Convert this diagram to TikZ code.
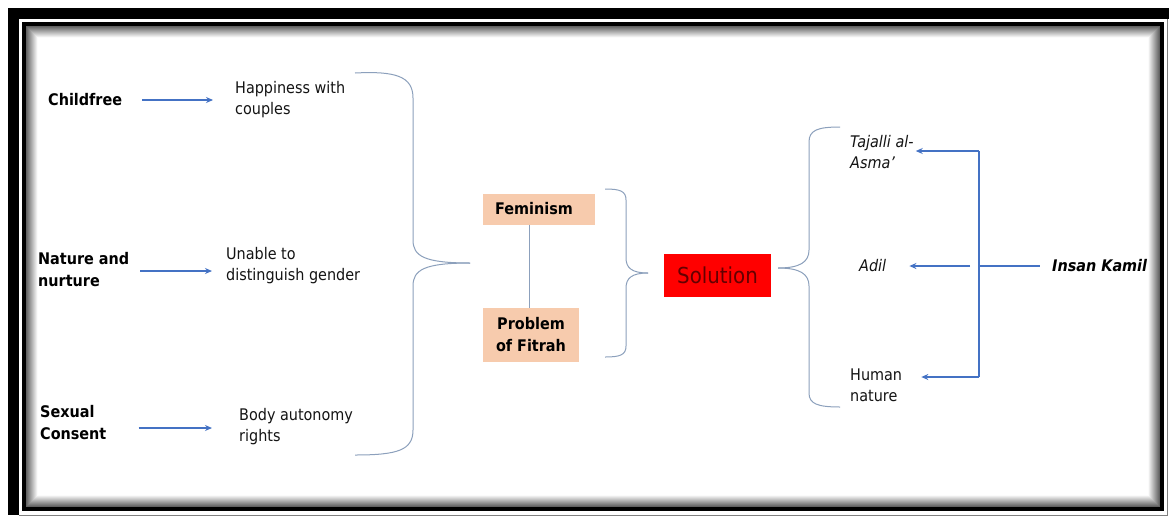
\documentclass[tikz,border=0pt]{standalone}
\usepackage{fontspec}
\setmainfont{DejaVu Sans Condensed}[BoldFont={DejaVu Sans Condensed Bold},ItalicFont={DejaVu Sans Condensed Oblique},BoldItalicFont={DejaVu Sans Condensed Bold Oblique}]
\usetikzlibrary{arrows.meta}
\definecolor{arrblue}{RGB}{68,114,196}
\definecolor{brcol}{RGB}{140,160,188}
\definecolor{peach}{RGB}{247,203,173}
\definecolor{solred}{RGB}{255,0,0}
\definecolor{soltext}{RGB}{100,0,0}
\definecolor{txtcol}{RGB}{20,20,20}
\tikzset{
  txt/.style={font=\fontsize{16}{21}\selectfont, align=left, anchor=west, inner sep=0pt, text=txtcol},
  btxt/.style={txt, font=\fontsize{16}{22}\selectfont\bfseries, text=black},
  arr/.style={draw=arrblue, line width=1.3pt, -{Stealth[length=7pt,width=6pt]}},
  bline/.style={draw=arrblue, line width=1.3pt},
  brc/.style={draw=brcol, line width=1pt},
  pbox/.style={fill=peach, inner sep=0pt, font=\fontsize{16}{22}\selectfont\bfseries, align=center},
}
\begin{document}
\begin{tikzpicture}[x=1pt,y=-1pt]
\useasboundingbox (0,0) rectangle (1169,517);
\fill[white] (0,0) rectangle (1169,517);
% frame
\fill[black] (8,8) rectangle (1169,19);
\fill[black] (8,8) rectangle (19,515);
\draw[gray, line width=1pt] (1167.5,19) -- (1167.5,515.5) -- (19,515.5);
\draw[black, line width=4pt] (24,24) rectangle (1162,509);
\foreach \i in {0,...,11} {
  \pgfmathsetmacro\g{max(0,62-\i*5.5)}
  \draw[black!\g, line width=1.1pt] (26.5+\i,26.5+\i) rectangle (1159.5-\i,506.5-\i);
}
% left column
\node[btxt] (c1) at (48,100) {Childfree};
\node[btxt] (c2) at (38,270) {Nature and\\nurture};
\node[btxt] (c3) at (40,423) {Sexual\\Consent};
\node[txt] (h1) at (235,100) {Happiness with\\couples};
\node[txt] (h2) at (226,266) {Unable to\\distinguish gender};
\node[txt] (h3) at (239,427) {Body autonomy\\rights};
\draw[arr, shorten <=20pt, shorten >=22pt] (c1.east) -- (c1.east -| h1.west);
\draw[arr, shorten <=11pt, shorten >=14pt] (c2.east |- 0,271) -- (h2.west |- 0,271);
\draw[arr, shorten <=32pt, shorten >=27pt] (c3.east |- 0,428) -- (h3.west |- 0,428);
% big brace
\coordinate (b1t) at (355,73);
\coordinate (b1m) at (470,263);
\coordinate (b1b) at (355,455);
\draw[brc] (b1t) .. controls (395,71) and (413,76) .. (413,98) -- (413,240)
  .. controls (413,256) and (424,263) .. (b1m);
\draw[brc] (b1m) .. controls (424,263) and (413,270) .. (413,286) -- (413,430)
  .. controls (413,450) and (398,455) .. (b1b);
% middle boxes
\node[pbox, minimum width=112pt, minimum height=31pt] (fem) at (539,209) {\hspace*{-10pt}Feminism};
\node[pbox, minimum width=96pt, minimum height=54pt] (prob) at (531,335) {Problem\\of Fitrah};
\draw[brc] (fem.south -| 529,0) -- (prob.north -| 529,0);
% second brace
\coordinate (b2t) at (605,189);
\coordinate (b2m) at (648,273);
\coordinate (b2b) at (605,357);
\draw[brc] (b2t) .. controls (620,189) and (626,191) .. (626,200) -- (626,258)
  .. controls (626,268) and (632,273) .. (b2m);
\draw[brc] (b2m) .. controls (632,273) and (626,278) .. (626,288) -- (626,346)
  .. controls (626,355) and (620,357) .. (b2b);
% solution
\node[fill=solred, minimum width=107pt, minimum height=43pt, inner sep=0pt,
  font=\fontsize{22}{26}\selectfont, text=soltext] (sol) at (717.5,275.5) {Solution};
% third brace
\coordinate (b3t) at (840,127);
\coordinate (b3m) at (778,268);
\coordinate (b3b) at (840,407);
\draw[brc] (b3t) .. controls (818,127) and (809,130) .. (809,142) -- (809,250)
  .. controls (809,262) and (800,268) .. (b3m);
\draw[brc] (b3m) .. controls (800,268) and (809,274) .. (809,286) -- (809,393)
  .. controls (809,404) and (818,407) .. (b3b);
% right column
\node[txt, font=\fontsize{16}{21}\selectfont\itshape] (taj) at (850,152) {Tajalli al-\\Asma’};
\node[txt, font=\fontsize{16}{21}\selectfont\itshape] (adil) at (859,266) {Adil};
\node[txt] (hum) at (850,385) {Human\\nature};
\node[btxt, font=\fontsize{16}{22}\selectfont\bfseries\itshape] (ik) at (1052,266) {Insan Kamil};
\coordinate (jt) at (979,151);
\coordinate (jm) at (979,266);
\coordinate (jb) at (979,377);
\draw[bline] (jt) -- (jb);
\draw[arr, shorten >=2pt] (jt) -- (taj.east |- jt);
\draw[arr, shorten >=19pt] (jb) -- (hum.east |- jb);
\draw[arr, shorten <=9pt, shorten >=23pt] (jm) -- (adil.east |- jm);
\draw[draw=arrblue, line width=2.8pt, shorten >=12pt] (jm) -- (ik.west);
\end{tikzpicture}
\end{document}
